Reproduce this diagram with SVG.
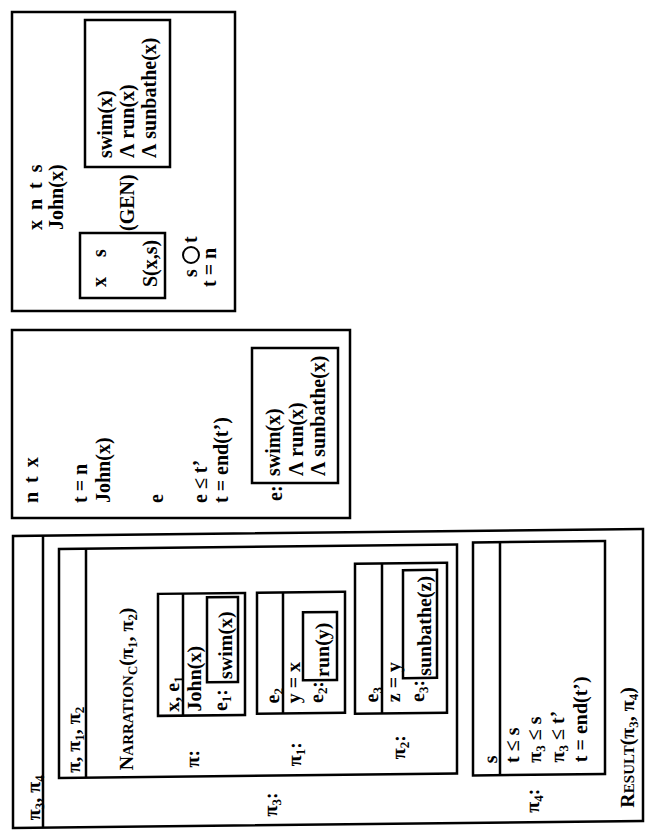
<svg xmlns="http://www.w3.org/2000/svg" width="654" height="836" viewBox="0 0 654 836">
<style>
.t{font-family:"Liberation Serif","Times New Roman",serif;font-size:20px;font-weight:bold;fill:#000}
.b{fill:none;stroke:#000;stroke-width:2.5}
.l{stroke:#000;stroke-width:2.5}
.sub{font-size:13px}
.sc{font-size:15px}
</style>
<rect width="654" height="836" fill="#fff"/>
<g transform="translate(0,836) rotate(-90)">
  <!-- Box C: pi3, pi4 (slightly skewed like the scan) -->
  <g id="boxC" transform="matrix(1 0 0.011 1 -3.6 0)">
    <rect class="b" x="11.5" y="13" width="292" height="630"/>
    <line class="l" x1="11.5" y1="43" x2="303.5" y2="43"/>
    <text class="t" x="19" y="40">π<tspan class="sub" dy="4">3</tspan><tspan dy="-4">, π</tspan><tspan class="sub" dy="4">4</tspan></text>
    <text class="t" x="20" y="277">π<tspan class="sub" dy="4">3</tspan><tspan dy="-4">:</tspan></text>
    <g id="pi3box">
      <rect class="b" x="61" y="59" width="229" height="398"/>
      <line class="l" x1="61" y1="86" x2="290" y2="86"/>
      <text class="t" x="66" y="80">π, π<tspan class="sub" dy="4">1</tspan><tspan dy="-4">, π</tspan><tspan class="sub" dy="4">2</tspan></text>
      <text class="t" x="68" y="133">N<tspan class="sc">ARRATION</tspan><tspan class="sub" dy="4">C</tspan><tspan dy="-4">(π</tspan><tspan class="sub" dy="4">1</tspan><tspan dy="-4">, π</tspan><tspan class="sub" dy="4">2</tspan><tspan dy="-4">)</tspan></text>
      <text class="t" x="70" y="199">π:</text>
      <text class="t" x="70" y="301">π<tspan class="sub" dy="4">1</tspan><tspan dy="-4">:</tspan></text>
      <text class="t" x="76" y="405">π<tspan class="sub" dy="4">2</tspan><tspan dy="-4">:</tspan></text>
      <g id="piBox">
        <rect class="b" x="122" y="158" width="122" height="87"/>
        <line class="l" x1="122" y1="183" x2="244" y2="183"/>
        <text class="t" x="126" y="179">x, e<tspan class="sub" dy="4">1</tspan></text>
        <text class="t" x="126" y="201">John(x)</text>
        <text class="t" x="126" y="227">e<tspan class="sub" dy="4">1</tspan><tspan dy="-4">:</tspan></text>
        <rect class="b" x="155" y="207" width="85" height="31"/>
        <text class="t" x="158" y="232">swim(x)</text>
      </g>
      <g id="pi1Box">
        <rect class="b" x="123" y="257" width="121" height="88"/>
        <line class="l" x1="123" y1="283" x2="244" y2="283"/>
        <text class="t" x="133" y="279">e<tspan class="sub" dy="4">2</tspan></text>
        <text class="t" x="133" y="300">y = x</text>
        <text class="t" x="133" y="323">e<tspan class="sub" dy="4">2</tspan><tspan dy="-4">:</tspan></text>
        <rect class="b" x="156" y="303" width="68" height="34"/>
        <text class="t" x="159" y="329">run(y)</text>
      </g>
      <g id="pi2Box">
        <rect class="b" x="122" y="355" width="150" height="92"/>
        <line class="l" x1="122" y1="382" x2="272" y2="382"/>
        <text class="t" x="133" y="378">e<tspan class="sub" dy="4">3</tspan></text>
        <text class="t" x="133" y="400">z = y</text>
        <text class="t" x="133" y="424">e<tspan class="sub" dy="4">3</tspan><tspan dy="-4">:</tspan></text>
        <rect class="b" x="157" y="403" width="108" height="34"/>
        <text class="t" x="159" y="431">sunbathe(z)</text>
      </g>
    </g>
    <text class="t" x="21" y="539">π<tspan class="sub" dy="4">4</tspan><tspan dy="-4">:</tspan></text>
    <g id="pi4box">
      <rect class="b" x="59" y="473" width="233" height="132"/>
      <line class="l" x1="59" y1="500" x2="292" y2="500"/>
      <text class="t" x="71" y="497">s</text>
      <text class="t" x="71" y="519">t ≤ s</text>
      <text class="t" x="71" y="541">π<tspan class="sub" dy="4">3</tspan><tspan dy="-4"> ≤ s</tspan></text>
      <text class="t" x="71" y="564">π<tspan class="sub" dy="4">3</tspan><tspan dy="-4"> ≤ t’</tspan></text>
      <text class="t" x="71" y="587">t = end(t’)</text>
    </g>
    <text class="t" x="25" y="634">R<tspan class="sc">ESULT</tspan>(π<tspan class="sub" dy="4">3</tspan><tspan dy="-4">, π</tspan><tspan class="sub" dy="4">4</tspan><tspan dy="-4">)</tspan></text>
  </g>
  <!-- Box B -->
  <g id="boxB">
    <rect class="b" x="318" y="12" width="188" height="338"/>
    <text class="t" x="333" y="38" style="word-spacing:4px">n t x</text>
    <text class="t" x="333" y="87">t = n</text>
    <text class="t" x="333" y="110">John(x)</text>
    <text class="t" x="333" y="163">e</text>
    <text class="t" x="333" y="207">e ≤ t’</text>
    <text class="t" x="333" y="228">t = end(t’)</text>
    <text class="t" x="335" y="282">e:</text>
    <g id="boxB_inner">
      <rect class="b" x="353" y="252" width="135" height="86"/>
      <text class="t" x="360" y="280">swim(x)</text>
      <text class="t" x="360" y="303">Λ run(x)</text>
      <text class="t" x="360" y="325">Λ sunbathe(x)</text>
    </g>
  </g>
  <!-- Box A -->
  <g id="boxA">
    <rect class="b" x="525" y="12" width="299" height="223"/>
    <text class="t" x="606" y="42" style="word-spacing:5px">x n t s</text>
    <text class="t" x="606" y="63">John(x)</text>
    <g id="boxA_xs">
      <rect class="b" x="538" y="80" width="65" height="85"/>
      <text class="t" x="549" y="106" style="word-spacing:15px">x s</text>
      <text class="t" x="549" y="157">S(x,s)</text>
    </g>
    <text class="t" x="605" y="134">(GEN)</text>
    <g id="boxA_gen">
      <rect class="b" x="669" y="85" width="147" height="85"/>
      <text class="t" x="678" y="112">swim(x)</text>
      <text class="t" x="678" y="134">Λ run(x)</text>
      <text class="t" x="678" y="156">Λ sunbathe(x)</text>
    </g>
    <text class="t" x="559" y="197">s</text>
    <circle cx="581" cy="191" r="8" fill="none" stroke="#000" stroke-width="2"/>
    <text class="t" x="593" y="197">t</text>
    <text class="t" x="549" y="216">t = n</text>
  </g>
  <g id="connectors"/>
</g>
</svg>
